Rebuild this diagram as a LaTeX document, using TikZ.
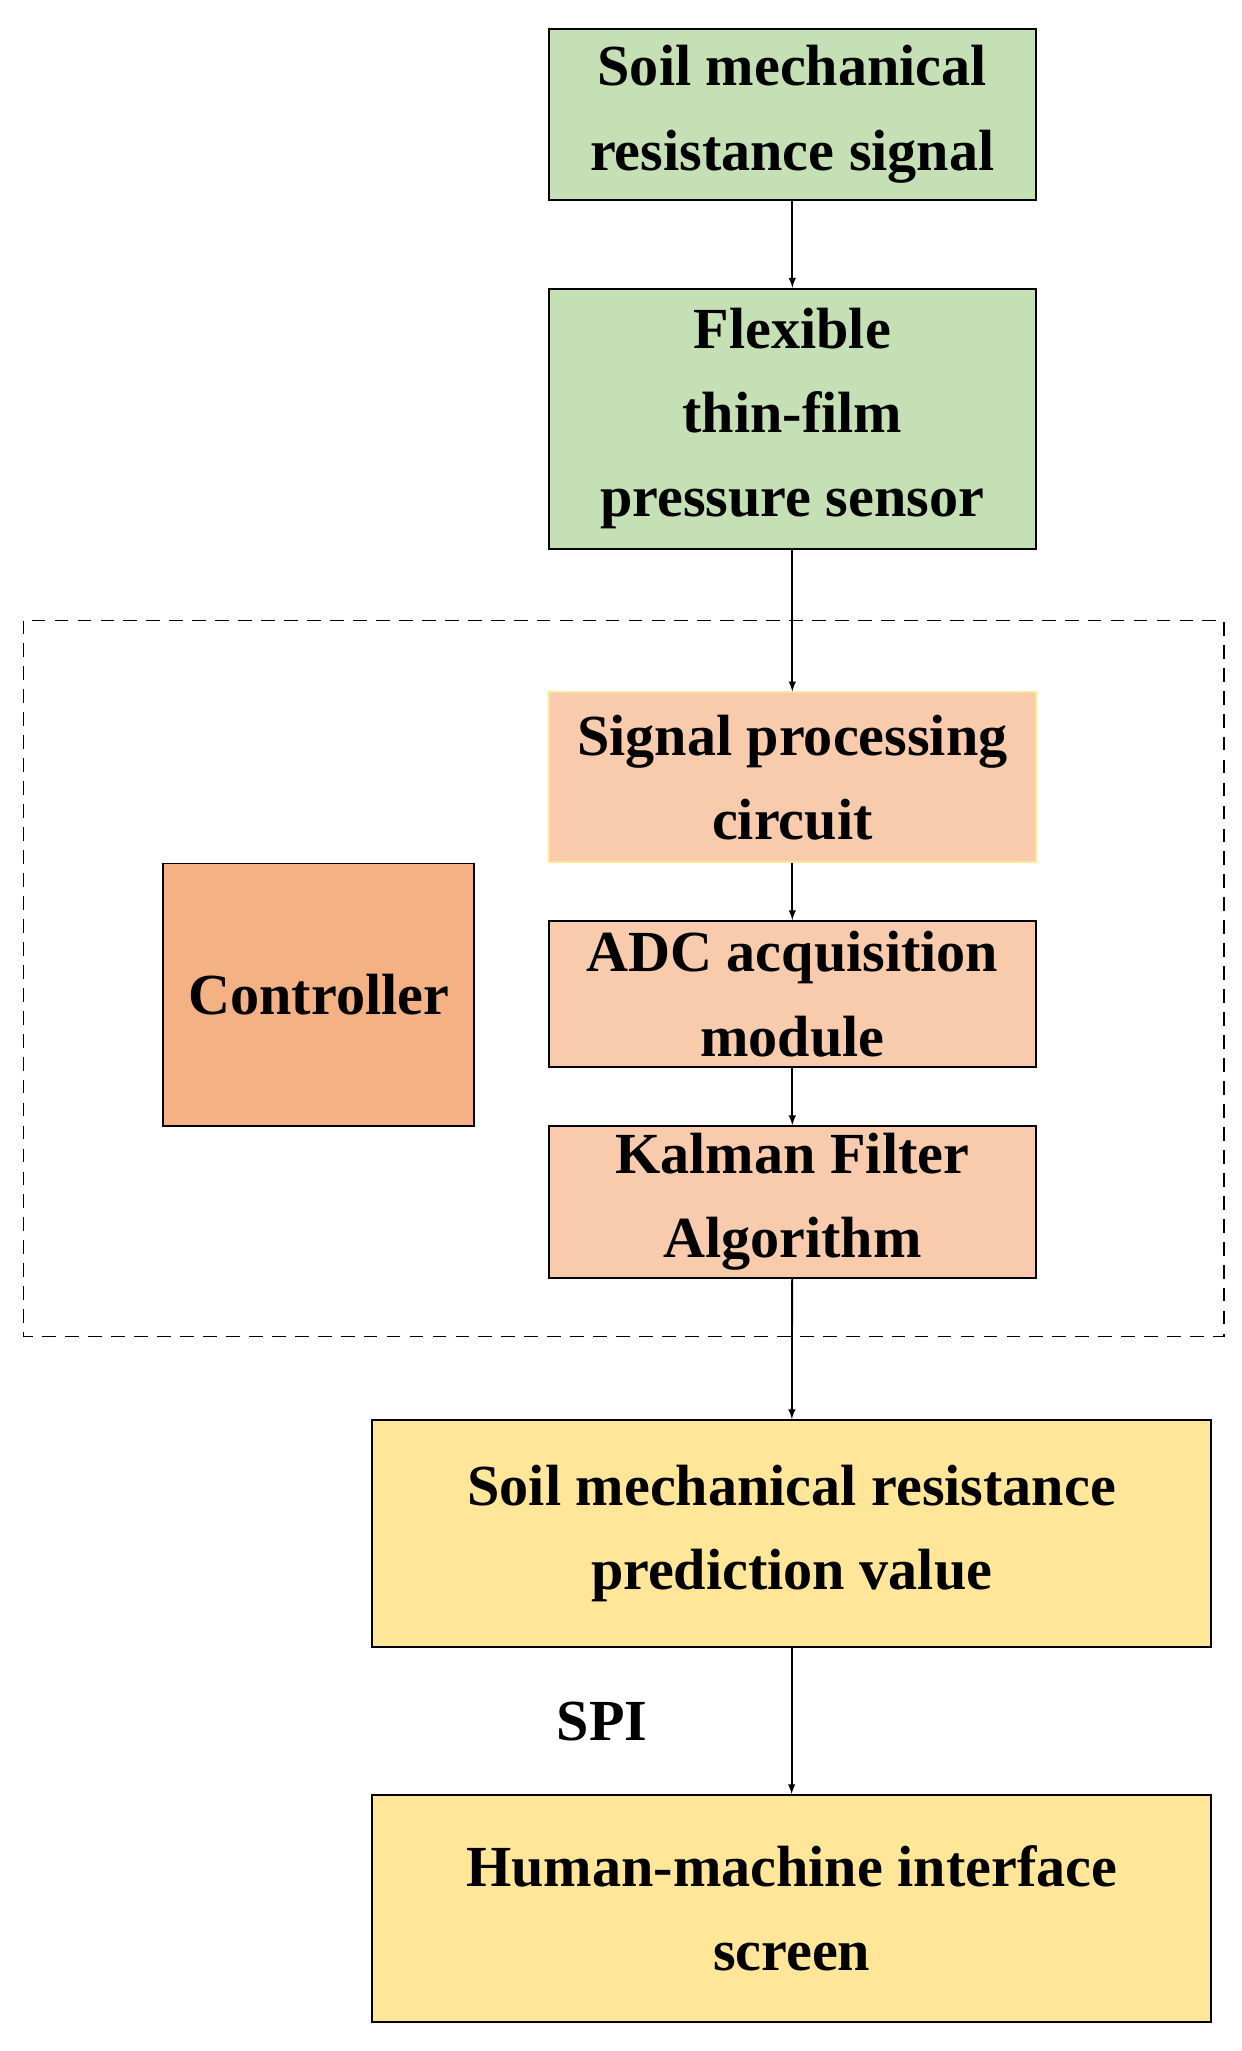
\documentclass[tikz,border=0pt]{standalone}
\usepackage{fontspec}
\setmainfont{Liberation Serif}
\begin{document}
\begin{tikzpicture}[x=0.03cm,y=-0.03cm,
    blk/.style={draw=black,line width=1.2pt,align=center,inner sep=0pt,
      font=\fontsize{38}{55}\selectfont\bfseries},
    arr/.style={-latex,line width=1.2pt}]
    % Bounding box
    \useasboundingbox (0,0) rectangle (950,1570);

    % Sensor boxes
    \node[blk,fill=green!20!lime!30!white,fill={rgb,255:red,197;green,224;blue,180},minimum width=373*0.03cm,minimum height=131*0.03cm] (sig) at (606.5,87.5) {Soil mechanical\\resistance signal};
    \node[blk,fill={rgb,255:red,197;green,224;blue,180},minimum width=373*0.03cm,minimum height=199*0.03cm] (sen) at (606.5,320.5) {Flexible\\thin-film\\pressure sensor};

    % Dashed frame
    \draw[dashed,line width=1pt,dash pattern=on 9pt off 6pt] (18,475) rectangle (937,1023);

    % Processing boxes
    \node[blk,draw={rgb,255:red,255;green,230;blue,153},fill={rgb,255:red,248;green,203;blue,173},minimum width=373*0.03cm,minimum height=130*0.03cm] (spc) at (606.5,595) {Signal processing\\circuit};
    \node[blk,fill={rgb,255:red,248;green,203;blue,173},minimum width=373*0.03cm,minimum height=112*0.03cm] (adc) at (606.5,761) {ADC acquisition\\module};
    \node[blk,fill={rgb,255:red,248;green,203;blue,173},minimum width=373*0.03cm,minimum height=116*0.03cm] (kal) at (606.5,920) {Kalman Filter\\Algorithm};
    \node[blk,fill={rgb,255:red,244;green,177;blue,131},minimum width=238*0.03cm,minimum height=201*0.03cm] (ctl) at (244,761.5) {Controller};

    % Output boxes
    \node[blk,fill={rgb,255:red,255;green,230;blue,153},minimum width=642*0.03cm,minimum height=174*0.03cm] (val) at (606,1174) {Soil mechanical resistance\\prediction value};
    \node[blk,fill={rgb,255:red,255;green,230;blue,153},minimum width=642*0.03cm,minimum height=174*0.03cm] (hmi) at (606,1461) {Human-machine interface\\screen};

    % Arrows
    \draw[arr] (sig) -- (sen);
    \draw[arr] (sen) -- (spc);
    \draw[arr] (spc) -- (adc);
    \draw[arr] (adc) -- (kal);
    \draw[arr] (kal) -- (val);
    \draw[arr] (val) -- (hmi);
    \node[font=\fontsize{38}{46}\selectfont\bfseries] (spi) at (461,1318) {SPI};
\end{tikzpicture}
\end{document}
